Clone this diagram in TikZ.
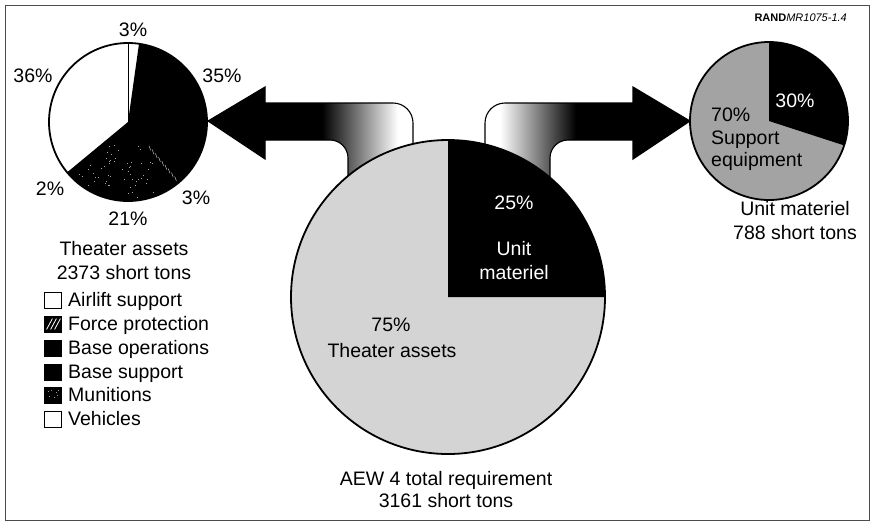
\documentclass[tikz,border=0pt]{standalone}
\usepackage{fontspec}
\setmainfont{Liberation Sans}
\begin{document}
\begin{tikzpicture}[x=1pt,y=-1pt,
  lbl/.style={font=\fontsize{19.5}{23.5}\selectfont, inner sep=0pt, anchor=base},
  wlbl/.style={lbl, text=white},
  keytext/.style={lbl, anchor=base west},
  keybox/.style={draw=black, line width=0.8pt, minimum width=17pt, minimum height=16pt, inner sep=0pt},
  pieedge/.style={draw=black, line width=1.8pt},
  arrowedge/.style={draw=black, line width=1.1pt},
  stipple/.style={fill=black!17},
  darkstipple/.style={fill=black!36}]

\useasboundingbox (0,0) rectangle (874,525);
\draw[line width=1pt, black!70] (5,5) rectangle (869,520);

% ---------- bent arrow towards the theater-asset pie ----------
\begin{scope}
  \clip (208,121) -- (265,87) -- (265,103) -- (393,103) arc(-90:0:20)
        -- (413,240) -- (348,240) -- (348,158) arc(0:-90:18)
        -- (265,140) -- (265,159) -- cycle;
  \fill[black] (200,80) rectangle (322,250);
  \shade[left color=black, right color=white] (322,80) rectangle (398,250);
\end{scope}
\draw[arrowedge] (208,121) -- (265,87) -- (265,103) -- (393,103) arc(-90:0:20)
      -- (413,240) -- (348,240) -- (348,158) arc(0:-90:18)
      -- (265,140) -- (265,159) -- cycle;

% ---------- bent arrow towards the unit-materiel pie ----------
\begin{scope}
  \clip (690,121) -- (633,87) -- (633,103) -- (505,103) arc(-90:-180:20)
        -- (485,240) -- (550,240) -- (550,158) arc(180:270:18)
        -- (633,140) -- (633,159) -- cycle;
  \fill[black] (576,80) rectangle (700,250);
  \shade[left color=white, right color=black] (500,80) rectangle (576,250);
\end{scope}
\draw[arrowedge] (690,121) -- (633,87) -- (633,103) -- (505,103) arc(-90:-180:20)
      -- (485,240) -- (550,240) -- (550,158) arc(180:270:18)
      -- (633,140) -- (633,159) -- cycle;

% ---------- AEW total requirement pie ----------
\coordinate (bigc) at (448,297);
\begin{scope}[shift={(bigc)}, yscale=-1]
  \fill[stipple] (0,0) -- (90:157) arc(90:360:157) -- cycle;
  \fill[black] (0,0) -- (0:157) arc(0:90:157) -- cycle;
  \draw[pieedge] (0,0) circle (157);
\end{scope}

% ---------- theater assets pie ----------
\coordinate (thc) at (128,122);
\begin{scope}[shift={(thc)}, yscale=-1]
  \fill[white] (0,0) circle (79);
  \fill[black] (0,0) -- (219.6:79) arc(219.6:442:79) -- cycle;
  % munitions: black with sparse white specks
  \begin{scope}
    \clip (0,0) -- (226.8:79) arc(226.8:302.4:79) -- cycle;
    \pgfmathsetseed{11}
    \foreach \i in {1,...,55}{
      \pgfmathsetmacro{\ang}{226.8+75.6*rnd}
      \pgfmathsetmacro{\rad}{14+64*sqrt(rnd)}
      \fill[black!35] (\ang:\rad) rectangle ++(1,1);
    }
  \end{scope}
  % force protection: white hatch ticks
  \foreach \r in {34,39,...,76}
    \draw[black!25, line width=0.5pt] (310:\r) ++(110:2.5) -- ++(290:5);
  \draw[black, line width=0.8pt] (0,0) -- (90:79);
  \draw[pieedge] (0,0) circle (79);
\end{scope}

% ---------- unit materiel pie ----------
\coordinate (umc) at (769,121);
\begin{scope}[shift={(umc)}, yscale=-1]
  \fill[darkstipple] (0,0) circle (79);
  \fill[black] (0,0) -- (-18:79) arc(-18:90:79) -- cycle;
  \draw[pieedge] (0,0) circle (79);
\end{scope}

% ---------- labels of the theater assets pie ----------
\node[lbl] (p3a)  at (133,36)  {3\%};
\node[lbl] (p35)  at (222,82)  {35\%};
\node[lbl] (p36)  at (33,82)   {36\%};
\node[lbl] (p2)   at (50,195)  {2\%};
\node[lbl] (p3b)  at (196,204) {3\%};
\node[lbl] (p21)  at (128,225) {21\%};
\node[lbl] (tha)  at (124,255) {Theater assets};
\node[lbl] (tht)  at (124,279) {2373 short tons};

% ---------- key ----------
\node[keybox, fill=white] (k1) at (52.5,300) {};
\node[keytext] (t1) at (68,306) {Airlift support};
\node[keybox, fill=black] (k2) at (52.5,324) {};
\draw[white, line width=0.8pt] ([shift={(3,-3)}]k2.south west) -- ([shift={(-9,3)}]k2.north east)
      ([shift={(7,-3)}]k2.south west) -- ([shift={(-5,3)}]k2.north east)
      ([shift={(11,-3)}]k2.south west) -- ([shift={(-1,3)}]k2.north east);
\node[keytext] (t2) at (68,330) {Force protection};
\node[keybox, fill=black] (k3) at (52.5,348) {};
\node[keytext] (t3) at (68,354) {Base operations};
\node[keybox, fill=black] (k4) at (52.5,372) {};
\node[keytext] (t4) at (68,378) {Base support};
\node[keybox, fill=black] (k5) at (52.5,395) {};
\foreach \dx/\dy in {-5/-4,-2/-5,3/-3,5/-5,-4/1,1/2,4/0}
  \fill[black!40] ([shift={(\dx,\dy)}]k5.center) rectangle ++(0.9,0.9);
\node[keytext] (t5) at (68,401) {Munitions};
\node[keybox, fill=white] (k6) at (52.5,419) {};
\node[keytext] (t6) at (68,425) {Vehicles};

% ---------- labels of the AEW pie ----------
\node[wlbl] (b25)  at (514,209) {25\%};
\node[wlbl] (bunit) at (514,255) {Unit};
\node[wlbl] (bmat) at (514,279) {materiel};
\node[lbl]  (b75)  at (391,331) {75\%};
\node[lbl]  (bth)  at (392,357) {Theater assets};
\node[lbl]  (aew)  at (446,485) {AEW 4 total requirement};
\node[lbl]  (aewt) at (446,507) {3161 short tons};

% ---------- labels of the unit materiel pie ----------
\node[wlbl] (u30) at (795,107) {30\%};
\node[lbl, anchor=base west] (u70) at (711,121) {70\%};
\node[lbl, anchor=base west] (usup) at (711,144) {Support};
\node[lbl, anchor=base west] (ueq) at (711,166) {equipment};
\node[lbl] (umt) at (795,215) {Unit materiel};
\node[lbl] (ust) at (795,239) {788 short tons};

\node[inner sep=0pt, anchor=base east, font=\fontsize{11}{13}\selectfont] (rand) at (847,21)
  {\textbf{RAND}\textit{MR1075-1.4}};
\end{tikzpicture}
\end{document}
